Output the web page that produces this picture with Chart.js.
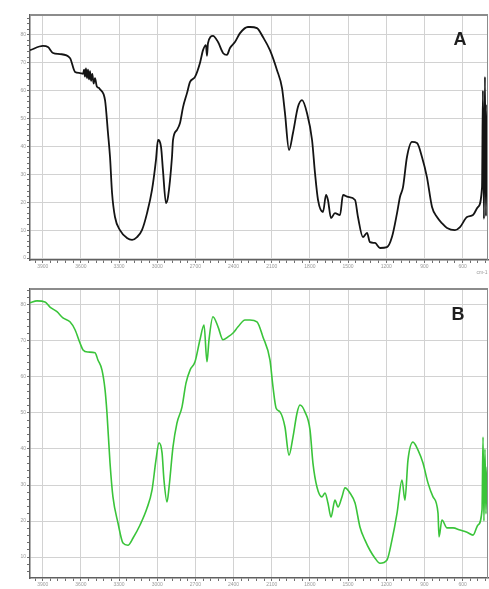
<!DOCTYPE html>
<html lang="en">
<head>
<meta charset="UTF-8">
<title>FTIR spectra A and B</title>
<script src="https://cdn.jsdelivr.net/npm/chart.js"></script>
<style>
    body { margin: 0; padding: 0; background: #fff; width: 489px; height: 589px; overflow: hidden; }
    .panel { position: relative; width: 489px; }
    #panelA { height: 281px; }
    #panelB { height: 308px; }
</style>
</head>
<body>
<div class="panel" id="panelA"><canvas id="chartA"></canvas></div>
<div class="panel" id="panelB"><canvas id="chartB"></canvas></div>

<script>
// wavenumber tick labels (cm-1), shared by both panels
const xTicks = [3900, 3600, 3300, 3000, 2700, 2400, 2100, 1800, 1500, 1200, 900, 600];
const aYTicks = [0, 10, 20, 30, 40, 50, 60, 70, 80];
const bYTicks = [10, 20, 30, 40, 50, 60, 70, 80];

// spectrum A (black)
const aWave = [4000, 3898, 3859, 3819, 3764, 3686, 3646, 3607, 3583, 3575, 3568, 3560, 3552, 3544, 3536, 3528, 3520, 3510,
    3500, 3489, 3475, 3460, 3450,
    3410, 3387, 3371, 3355, 3332, 3293, 3238, 3198, 3159, 3120, 3080, 3041, 3010, 2994, 2970, 2955, 2931, 2915,
    2884, 2876, 2845, 2821, 2797, 2766, 2742, 2703, 2664, 2640, 2617, 2609, 2601, 2562, 2522, 2483, 2452, 2428,
    2389, 2349, 2287, 2271, 2216, 2169, 2114, 2059, 2019, 1996, 1964, 1933, 1894, 1862, 1823, 1783, 1760, 1736,
    1697, 1673, 1658, 1634, 1603, 1563, 1540, 1500, 1445, 1422, 1383, 1351, 1328, 1288, 1249, 1194, 1155, 1115,
    1092, 1068, 1037, 998, 958, 919, 880, 840, 801, 762, 722, 660, 620, 565, 518, 479, 447, 440, 432, 424, 416, 408, 400];
const aTrans = [74.5, 76.0, 75.6, 73.5, 73.1, 71.7, 66.7, 66.3, 66.0, 67.5, 65.0, 68.0, 64.5, 67.5, 64.0, 67.0, 63.5, 66.0,
    62.5, 64.5, 61.5, 61.0, 60.5,
    56.5, 44.8, 36.2, 23.3, 14.7, 10.0, 7.2, 6.5, 7.5, 10.0, 16.1, 24.4, 35.1, 42.3, 39.8, 31.5, 19.7, 21.9,
    36.2, 42.3, 45.9, 48.4, 54.1, 59.1, 63.1, 64.9, 69.9, 74.5, 76.3, 72.5, 77.0, 79.6, 77.4, 73.5, 72.8, 75.3,
    77.4, 80.6, 82.8, 82.8, 82.4, 79.2, 74.5, 67.4, 60.9, 52.0, 38.7, 44.8, 54.1, 56.6, 52.0, 42.3, 30.5, 20.8,
    16.5, 22.6, 20.8, 14.3, 16.1, 15.4, 22.6, 21.9, 20.8, 14.7, 7.5, 9.0, 5.7, 5.4, 3.6, 3.9, 7.5, 16.1,
    21.9, 25.4, 36.2, 41.6, 41.2, 36.2, 29.0, 18.3, 14.7, 12.5, 10.8, 10.0, 11.1, 14.7, 15.4, 18.3, 25.4, 60.0, 14.0, 64.9, 15.0, 55.0, 40.0];

// spectrum B (green)
const bWave = [4000, 3945, 3882, 3843, 3788, 3741, 3686, 3646, 3607, 3583, 3544, 3489, 3466, 3434, 3410, 3395, 3371, 3348,
    3308, 3269, 3230, 3190, 3135, 3080, 3041, 3010, 2986, 2962, 2947, 2923, 2907, 2876, 2845, 2805, 2774, 2742,
    2703, 2664, 2632, 2609, 2593, 2562, 2522, 2483, 2444, 2404, 2365, 2310, 2271, 2216, 2169, 2114, 2090, 2066,
    2035, 1996, 1964, 1933, 1901, 1878, 1839, 1799, 1776, 1744, 1705, 1681, 1658, 1634, 1603, 1579, 1548, 1524,
    1485, 1445, 1406, 1367, 1328, 1288, 1249, 1194, 1155, 1115, 1076, 1053, 1029, 990, 950, 911, 872, 832,
    793, 785, 762, 722, 675, 620, 565, 518, 479, 447, 439, 432, 424, 416, 408, 400];
const bTrans = [80.6, 81.1, 80.8, 79.4, 78.1, 76.4, 75.3, 73.1, 69.4, 67.5, 66.9, 66.7, 64.7, 61.9, 56.4, 50.0, 36.1, 26.7,
    19.4, 13.9, 13.3, 15.3, 18.9, 23.6, 28.6, 36.9, 41.7, 38.9, 31.4, 25.3, 29.4, 40.6, 47.2, 51.7, 58.3, 61.9,
    64.2, 70.3, 74.4, 64.2, 70.3, 76.7, 73.9, 70.3, 71.1, 72.2, 73.9, 75.8, 75.8, 75.3, 71.1, 64.7, 57.2, 51.4,
    50.3, 46.1, 38.3, 43.3, 50.0, 52.2, 50.3, 45.3, 36.1, 29.4, 26.7, 27.8, 25.0, 21.1, 25.8, 23.9, 26.7, 29.2,
    27.8, 25.0, 18.3, 14.7, 11.9, 9.7, 8.3, 9.2, 14.7, 22.2, 31.4, 25.8, 36.9, 41.9, 39.7, 36.1, 30.6, 26.7,
    22.2, 15.6, 20.3, 18.1, 18.1, 17.5, 16.9, 16.1, 18.9, 23.1, 43.3, 20.0, 40.0, 22.0, 35.0, 31.4];

function toPoints(xs, ys) {
    return xs.map((x, i) => ({ x: x, y: ys[i] }));
}

// major ticks get a label and a grid line, minor ones only a tick mark
function withMinor(major, min, max, step) {
    const vals = [];
    for (let v = min; v <= max; v += step) vals.push(v);
    major.forEach(v => { if (!vals.includes(v)) vals.push(v); });
    return vals.sort((p, q) => p - q);
}

const tickFont = { family: 'Liberation Sans', size: 5 };

function axes(yTicks, yMin, yMax, xHeight) {
    return {
        x: {
            type: 'linear',
            reverse: true,
            min: 400,
            max: 4000,
            afterBuildTicks: s => { s.ticks = withMinor(xTicks, 420, 3960, 60).map(v => ({ value: v })); },
            afterFit: s => { s.height = xHeight; },
            ticks: {
                autoSkip: false, maxRotation: 0, padding: 1, color: '#9a9a9a', font: tickFont,
                callback: v => xTicks.includes(v) ? String(v) : ''
            },
            grid: {
                color: c => (c.tick && xTicks.includes(c.tick.value)) ? '#d2d2d2' : 'rgba(0,0,0,0)',
                tickColor: '#707070',
                tickLength: 3,
                lineWidth: 1
            },
            border: { color: '#606060', width: 1.5 }
        },
        y: {
            min: yMin,
            max: yMax,
            afterBuildTicks: s => { s.ticks = withMinor(yTicks, Math.ceil(yMin / 2) * 2, yMax, 2).map(v => ({ value: v })); },
            afterFit: s => { s.width = 30; },
            ticks: {
                autoSkip: false, padding: 1, color: '#9a9a9a', font: tickFont,
                callback: v => yTicks.includes(v) ? String(v) : ''
            },
            grid: {
                color: c => (c.tick && yTicks.includes(c.tick.value)) ? '#d2d2d2' : 'rgba(0,0,0,0)',
                tickColor: '#707070',
                tickLength: 3,
                lineWidth: 1
            },
            border: { color: '#606060', width: 1.5 }
        }
    };
}

const panelDecor = {
    id: 'panelDecor',
    afterDraw(chart, args, opts) {
        const { ctx, chartArea: a } = chart;
        ctx.save();
        ctx.strokeStyle = '#8c8c8c';
        ctx.lineWidth = 2;
        ctx.beginPath(); ctx.moveTo(a.left, a.top); ctx.lineTo(a.right, a.top); ctx.stroke();
        ctx.lineWidth = 1;
        ctx.beginPath(); ctx.moveTo(a.right - 0.5, a.top); ctx.lineTo(a.right - 0.5, a.bottom); ctx.stroke();
        ctx.font = 'bold 18px "Liberation Sans", Arial, sans-serif';
        ctx.fillStyle = '#1e1e1e';
        ctx.textAlign = 'center';
        ctx.textBaseline = 'middle';
        ctx.fillText(opts.letter, opts.lx, opts.ly);
        if (opts.unit) {
            ctx.font = '5px "Liberation Sans", sans-serif';
            ctx.fillStyle = '#9a9a9a';
            ctx.fillText(opts.unit, a.right - 6, a.bottom + 13);
        }
        ctx.restore();
    }
};

function makeChart(id, points, color, width, yTicks, yMin, yMax, padTop, xHeight, decor) {
    return new Chart(document.getElementById(id), {
        type: 'line',
        data: {
            datasets: [{
                data: points,
                borderColor: color,
                borderWidth: width,
                pointRadius: 0,
                cubicInterpolationMode: 'monotone',
                fill: false
            }]
        },
        options: {
            responsive: true,
            maintainAspectRatio: false,
            animation: false,
            layout: { padding: { top: padTop, right: 1, left: 0, bottom: 0 } },
            scales: axes(yTicks, yMin, yMax, xHeight),
            plugins: { legend: { display: false }, tooltip: { enabled: false }, panelDecor: decor }
        },
        plugins: [panelDecor]
    });
}

makeChart('chartA', toPoints(aWave, aTrans), '#141414', 1.8, aYTicks, -0.7, 87.1, 15, 21,
    { letter: 'A', lx: 460, ly: 40, unit: 'cm-1' });
makeChart('chartB', toPoints(bWave, bTrans), '#3ac43a', 1.6, bYTicks, 4.2, 84.4, 8, 11,
    { letter: 'B', lx: 458, ly: 34 });
</script>
</body>
</html>
